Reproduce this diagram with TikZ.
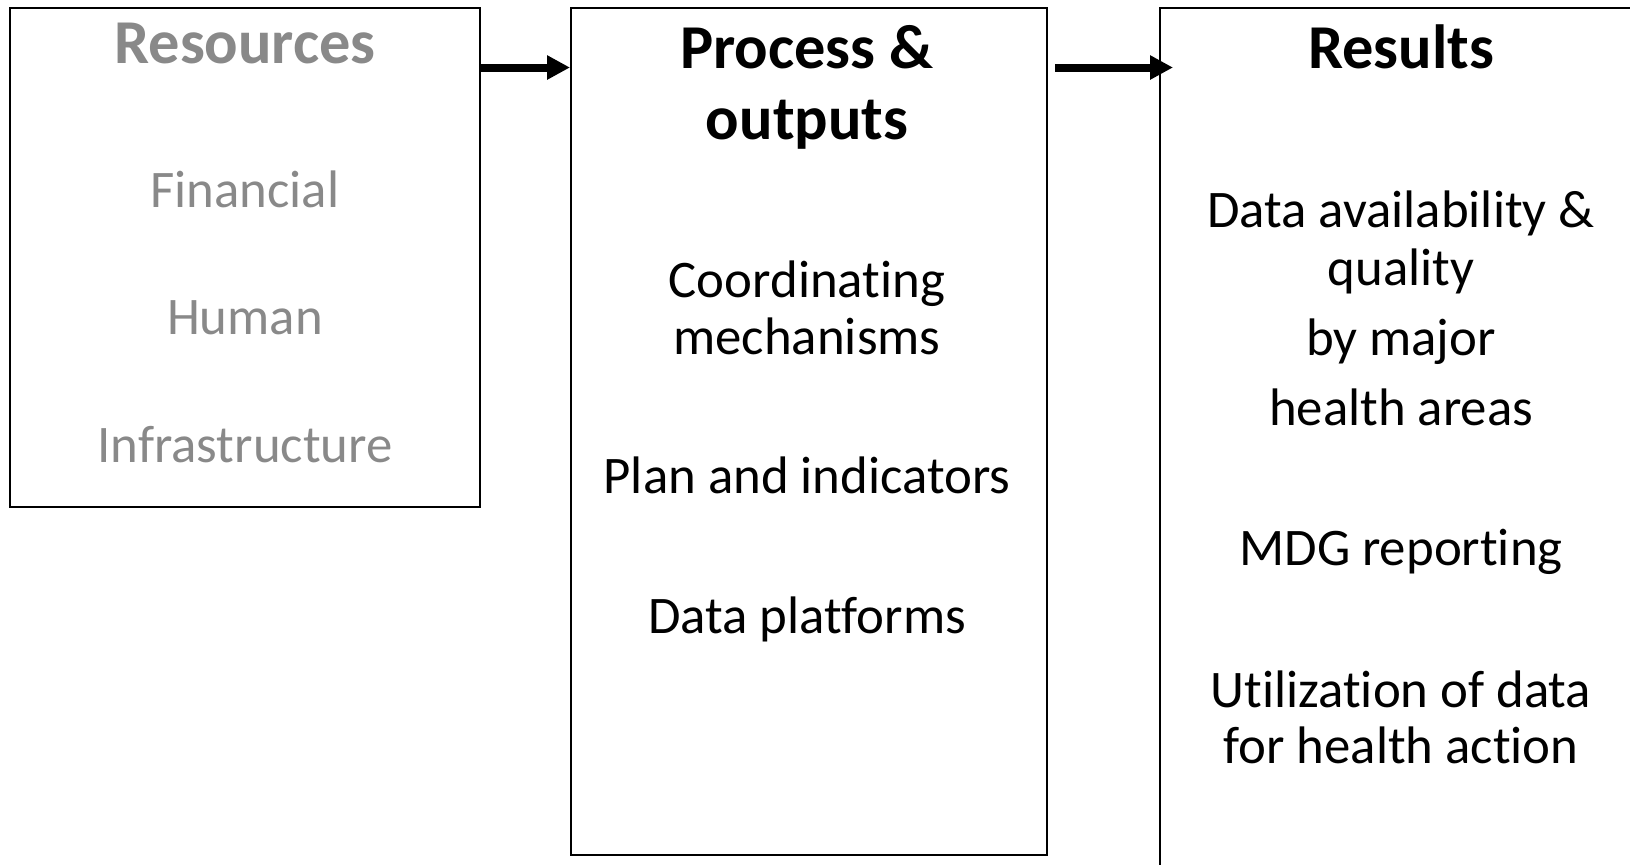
\documentclass[tikz,border=0pt]{standalone}
\usepackage{fontspec}
\setmainfont{Carlito}[Ligatures=CommonOff]
\usetikzlibrary{arrows.meta}
\definecolor{resgray}{RGB}{137,137,137}

\begin{document}
\begin{tikzpicture}[x=0.5pt,y=-0.5pt]
            \useasboundingbox (0,0) rectangle (1630,864);
            \clip (0,0) rectangle (1630,864);
            \begin{scope}[every node/.style={draw=black,line width=1pt,rectangle,anchor=north west,inner sep=0pt}]
                \node[minimum width=235pt,minimum height=249.5pt] (1) at (9,7) {};
                \node[minimum width=238pt,minimum height=423.5pt] (2) at (570,7) {};
                \node[minimum width=300pt,minimum height=500pt] (3) at (1159,7) {};
            \end{scope}
            \begin{scope}[every node/.style={anchor=base,inner sep=0pt,font=\fontsize{26.4pt}{28.5pt}\selectfont}]
                \node[text=resgray,font=\fontsize{31.2pt}{31pt}\selectfont\bfseries] (4) at (245,63) {Resources};
                \node[text=resgray] (5) at (245,207) {Financial};
                \node[text=resgray] (6) at (245,334) {Human};
                \node[text=resgray] (7) at (245,462) {Infrastructure};

                \node[font=\fontsize{31.2pt}{31pt}\selectfont\bfseries] (8) at (807,68) {Process \&};
                \node[font=\fontsize{31.2pt}{31pt}\selectfont\bfseries] (9) at (807,139) {outputs};
                \node (10) at (807,297) {Coordinating};
                \node (11) at (807,354) {mechanisms};
                \node (12) at (807,493) {Plan and indicators};
                \node (13) at (807,633) {Data platforms};

                \node[font=\fontsize{31.2pt}{31pt}\selectfont\bfseries] (14) at (1401,68) {Results};
                \node (15) at (1401,227) {Data availability \&};
                \node (16) at (1401,285) {quality};
                \node (17) at (1401,355) {by major};
                \node (18) at (1401,425) {health areas};
                \node (19) at (1401,565) {MDG reporting};
                \node (20) at (1401,707) {Utilization of data};
                \node (21) at (1401,763) {for health action};
            \end{scope}
            \begin{scope}[every edge/.style={draw,line width=4pt,-{Triangle[length=11.5pt,width=11.5pt]}}]
                \path ([yshift=-30.25pt]1.north east) edge ([yshift=-30.25pt]2.north west);
                \path ([xshift=3.5pt,yshift=-30.25pt]2.north east) edge ([xshift=7pt,yshift=-30.25pt]3.north west);
            \end{scope}
        \end{tikzpicture}
\end{document}
